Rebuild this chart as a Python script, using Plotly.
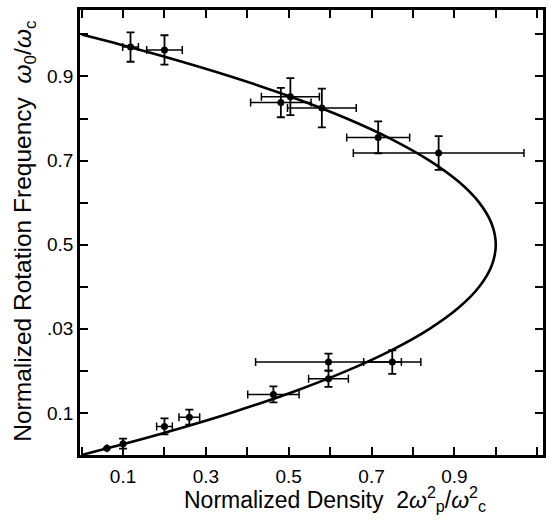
import plotly.graph_objects as go

dens = [0.118, 0.200, 0.481, 0.504, 0.580, 0.716, 0.862,
        0.596, 0.750, 0.596, 0.463, 0.260, 0.200, 0.100, 0.061]
freq = [0.970, 0.963, 0.838, 0.852, 0.825, 0.755, 0.718,
        0.221, 0.221, 0.181, 0.144, 0.090, 0.068, 0.027, 0.016]
dens_err = [0.019, 0.043, 0.073, 0.070, 0.083, 0.076, 0.206,
            0.176, 0.069, 0.048, 0.062, 0.025, 0.019, 0.0, 0.0]
freq_err = [0.035, 0.035, 0.035, 0.044, 0.046, 0.038, 0.040,
            0.020, 0.028, 0.019, 0.019, 0.018, 0.019, 0.012, 0.0]

# Theoretical curve
curve_x = [0.0, 0.078, 0.19, 0.36, 0.51, 0.64, 0.75, 0.84, 0.91, 0.96, 0.99, 1.0,
           0.99, 0.96, 0.91, 0.84, 0.75, 0.64, 0.51, 0.36, 0.19, 0.078, 0.0]
curve_y = [0.0, 0.02, 0.05, 0.10, 0.15, 0.20, 0.25, 0.30, 0.35, 0.40, 0.45, 0.50,
           0.55, 0.60, 0.65, 0.70, 0.75, 0.80, 0.85, 0.90, 0.95, 0.98, 1.0]

x_tickvals = [0.1, 0.3, 0.5, 0.7, 0.9]
x_ticktext = ["0.1", "0.3", "0.5", "0.7", "0.9"]
y_tickvals = [0.1, 0.3, 0.5, 0.7, 0.9]
y_ticktext = ["0.1", ".03", "0.5", "0.7", "0.9"]

narrow = "Liberation Sans Narrow, Arial Narrow, Liberation Sans, Arial"
regular = "Liberation Sans, Arial, sans-serif"

fig = go.Figure()
fig.add_trace(go.Scatter(x=curve_x, y=curve_y, mode="lines",
                         line=dict(color="black", width=2.6, shape="spline", smoothing=1.0),
                         hoverinfo="skip", showlegend=False))
fig.add_trace(go.Scatter(
    x=dens, y=freq, mode="markers",
    marker=dict(color="black", size=7, symbol="circle"),
    error_x=dict(type="data", array=dens_err, visible=True, color="black", thickness=1.5, width=4),
    error_y=dict(type="data", array=freq_err, visible=True, color="black", thickness=1.8, width=4),
    showlegend=False))

axis_common = dict(showline=True, linecolor="black", linewidth=2.6, mirror="ticks",
                   ticks="inside", ticklen=8, tickwidth=1.5, tickcolor="black",
                   showgrid=False, zeroline=False,
                   minor=dict(ticks="inside", ticklen=8, tickwidth=1.5, tickcolor="black",
                              tick0=0, dtick=0.1, showgrid=False),
                   tickfont=dict(family=narrow, size=19, color="black"))

fig.update_xaxes(range=[-0.004, 1.114], tickmode="array", tickvals=x_tickvals,
                 ticktext=x_ticktext, ticklabelstandoff=2, **axis_common)
fig.update_yaxes(range=[0.0, 1.058], tickmode="array", tickvals=y_tickvals,
                 ticktext=y_ticktext, **axis_common)

fig.add_annotation(
    text="Normalized Density  2<i>ω</i><sup>2</sup><sub>p</sub>/<i>ω</i><sup>2</sup><sub>c</sub>",
    xref="paper", yref="paper", x=0.55, y=-0.098, xanchor="center", yanchor="middle",
    showarrow=False, font=dict(family=regular, size=23, color="black"))
fig.add_annotation(
    text="Normalized Rotation Frequency  <i>ω</i><sub>0</sub>/<i>ω</i><sub>c</sub>",
    xref="paper", yref="paper", x=-0.12, y=0.505, xanchor="center", yanchor="middle",
    textangle=-90, showarrow=False, font=dict(family=regular, size=24.5, color="black"))

fig.update_layout(width=549, height=522, margin=dict(l=80, r=3, t=10, b=67),
                  paper_bgcolor="white", plot_bgcolor="white")

fig.write_html("out.html")
